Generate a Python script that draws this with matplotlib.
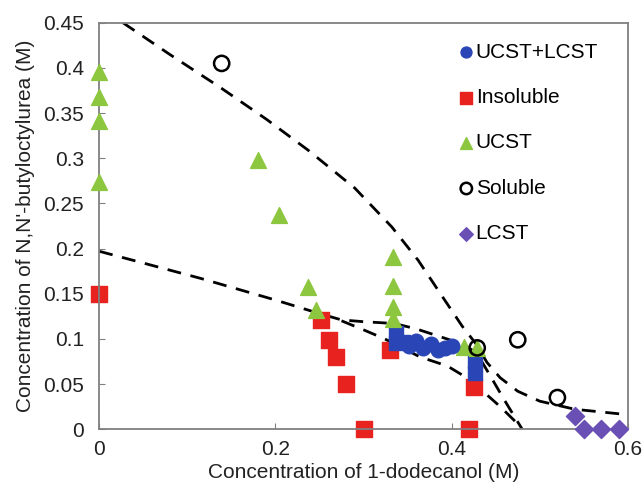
import matplotlib
matplotlib.use("Agg")
import matplotlib.pyplot as plt
import numpy as np

plt.rcParams['font.family'] = ['Liberation Sans', 'DejaVu Sans']

# UCST+LCST (blue circles, plus blue squares at the ends)
both_x = [0.352, 0.360, 0.368, 0.376, 0.384, 0.392, 0.400]
both_y = [0.092, 0.098, 0.090, 0.094, 0.088, 0.090, 0.092]
both_sq_x = [0.337, 0.337, 0.345, 0.427, 0.427]
both_sq_y = [0.106, 0.095, 0.097, 0.075, 0.062]

# Insoluble
insol_x = [0.0, 0.252, 0.261, 0.269, 0.280, 0.300, 0.330, 0.425, 0.420]
insol_y = [0.150, 0.121, 0.099, 0.080, 0.050, 0.0, 0.088, 0.047, 0.0]

# UCST
ucst_x = [0.0, 0.0, 0.0, 0.0, 0.180, 0.204, 0.237, 0.246, 0.334, 0.334, 0.334, 0.334, 0.414, 0.429]
ucst_y = [0.396, 0.368, 0.341, 0.274, 0.298, 0.237, 0.157, 0.132, 0.191, 0.158, 0.135, 0.122, 0.091, 0.090]

# Soluble
sol_x = [0.139, 0.429, 0.475, 0.520]
sol_y = [0.405, 0.090, 0.099, 0.035]

# LCST
lcst_x = [0.540, 0.550, 0.570, 0.590]
lcst_y = [0.015, 0.0, 0.0, 0.0]

# dashed boundaries
upper_x = [0.027, 0.080, 0.138, 0.190, 0.237, 0.290, 0.332, 0.362, 0.390, 0.412, 0.428, 0.440, 0.455, 0.475, 0.500, 0.540, 0.600]
upper_y = [0.450, 0.415, 0.378, 0.343, 0.309, 0.267, 0.224, 0.187, 0.146, 0.114, 0.094, 0.074, 0.057, 0.042, 0.031, 0.022, 0.016]
lower_x = [0.0, 0.115, 0.200, 0.250, 0.275, 0.300, 0.335, 0.360, 0.385, 0.410, 0.428, 0.442, 0.460, 0.480]
lower_y = [0.197, 0.167, 0.143, 0.128, 0.121, 0.119, 0.117, 0.111, 0.103, 0.095, 0.085, 0.062, 0.032, 0.0]
branch_x = [0.275, 0.300, 0.324, 0.364, 0.395, 0.412, 0.432, 0.455, 0.478]
branch_y = [0.120, 0.110, 0.100, 0.080, 0.070, 0.060, 0.045, 0.025, 0.003]

fig = plt.figure(figsize=(6.44, 4.95), dpi=100)
ax = fig.add_axes([0.154, 0.133, 0.821, 0.821])

for lx, ly in [(upper_x, upper_y), (lower_x, lower_y), (branch_x, branch_y)]:
    ax.plot(lx, ly, color='black', linestyle=(0, (5, 3.5)), linewidth=2.0, zorder=1)

kw = dict(clip_on=False)
ax.scatter(insol_x, insol_y, marker='s', s=125, color='#e8221f', zorder=2, label='Insoluble', **kw)
ax.scatter(both_sq_x, both_sq_y, marker='s', s=110, color='#2a45b5', zorder=3, **kw)
ax.scatter(ucst_x, ucst_y, marker='^', s=130, color='#8dc63f', zorder=3, label='UCST', **kw)
ax.scatter(both_x, both_y, marker='o', s=110, color='#2a45b5', zorder=4, label='UCST+LCST', **kw)
ax.scatter(sol_x, sol_y, marker='o', s=120, facecolors='none', edgecolors='black', linewidths=1.8, zorder=5, label='Soluble', **kw)
ax.scatter(lcst_x, lcst_y, marker='D', s=85, color='#6a4fb5', zorder=3, label='LCST', **kw)

ax.set_xlim(0, 0.6)
ax.set_ylim(0, 0.45)
ax.set_xticks([0, 0.2, 0.4, 0.6])
ax.set_xticklabels(['0', '0.2', '0.4', '0.6'])
ax.set_yticks(np.arange(0, 0.451, 0.05))
ax.set_yticklabels(['0', '0.05', '0.1', '0.15', '0.2', '0.25', '0.3', '0.35', '0.4', '0.45'])
ax.tick_params(direction='in', length=4, color='#808080', labelsize=15, labelcolor='#222222')
ax.tick_params(axis='y', pad=11)
ax.tick_params(axis='x', pad=8)
for sp in ax.spines.values():
    sp.set_color('#808080')
    sp.set_linewidth(1.3)

ax.set_xlabel('Concentration of 1-dodecanol (M)', fontsize=15, labelpad=3, color='#222222')
ax.set_ylabel("Concentration of N,N'-butyloctylurea (M)", fontsize=15, labelpad=6, color='#222222')

handles, labels = ax.get_legend_handles_labels()
order = [labels.index(n) for n in ['UCST+LCST', 'Insoluble', 'UCST', 'Soluble', 'LCST']]
leg = ax.legend([handles[i] for i in order], [labels[i] for i in order],
                loc='upper right', bbox_to_anchor=(0.981, 1.0), frameon=False,
                fontsize=15, labelspacing=1.27,
                handlelength=0.7, handletextpad=0.1, markerscale=0.75,
                borderaxespad=0.55)

fig.savefig('out.png', dpi=100)
